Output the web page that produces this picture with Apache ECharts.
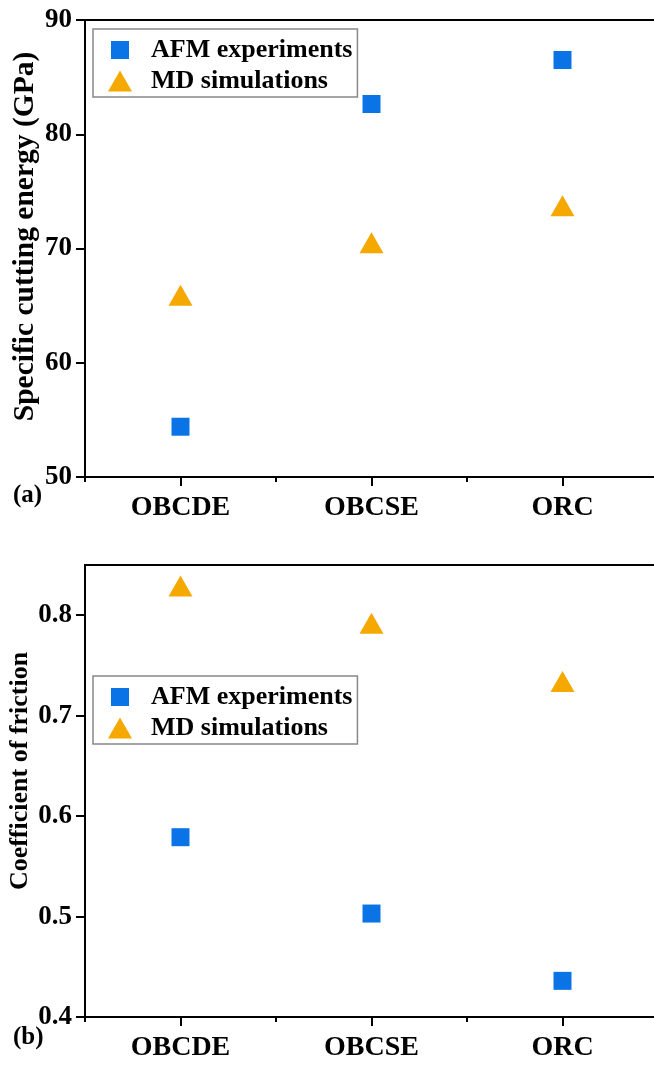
<!DOCTYPE html>
<html>
<head>
<meta charset="utf-8">
<script src="https://cdn.jsdelivr.net/npm/echarts@6/dist/echarts.min.js"></script>
<style>
html,body{margin:0;padding:0;background:#fff;}
#chart{width:654px;height:1067px;}
</style>
</head>
<body>
<div id="chart"></div>
<script>
const categories = ['OBCDE', 'OBCSE', 'ORC'];
const seriesNames = ['AFM experiments', 'MD simulations'];
const energyAFM = [54.4, 82.65, 86.5];
const energyMD = [65.9, 70.5, 73.75];
const frictionAFM = [0.579, 0.503, 0.436];
const frictionMD = [0.829, 0.792, 0.734];
const energyTicks = { min: 50, max: 90, interval: 10, minorInterval: 5 };
const frictionTicks = { min: 0.4, max: 0.85, interval: 0.1, minorInterval: 0.05 };
const panelLabels = ['(a)', '(b)'];
const yTitles = ['Specific cutting energy (GPa)', 'Coefficient of friction'];

const FONT = '"Times New Roman", "Liberation Serif", serif';
const BLUE = '#0a74e6';
const ORANGE = '#f5a800';
const squareIcon = 'path://M0,0M24,21M3,1.5h18v18h-18z';
const triIcon = 'path://M0,0M24,21M12,0L24,21L0,21z';

function xAxes(gridIndex) {
  return [
    {
      type: 'category', gridIndex, data: categories,
      axisLine: { show: true, lineStyle: { color: '#000', width: 2 } },
      axisTick: { show: true, alignWithLabel: true, inside: false, length: 9, lineStyle: { color: '#000', width: 2 } },
      axisLabel: { color: '#000', fontFamily: FONT, fontWeight: 'bold', fontSize: 28, margin: 17 },
      splitLine: { show: false }
    },
    {
      type: 'category', gridIndex, data: categories, position: 'bottom',
      axisLine: { show: false },
      axisTick: { show: true, inside: false, length: 5, lineStyle: { color: '#000', width: 2 } },
      axisLabel: { show: false },
      splitLine: { show: false }
    }
  ];
}

function isMultiple(v, step) {
  return Math.abs(v / step - Math.round(v / step)) < 1e-9;
}

function yAxes(gridIndex, t, title, gap, pad, titleSize) {
  return [
    {
      type: 'value', gridIndex, min: t.min, max: t.max, interval: t.interval,
      name: title, nameLocation: 'middle', nameGap: gap, nameMoveOverlap: false,
      nameTextStyle: { color: '#000', fontFamily: FONT, fontWeight: 'bold', fontSize: titleSize, padding: [0, 0, 0, pad] },
      axisLine: { show: true, lineStyle: { color: '#000', width: 2 } },
      axisTick: { show: true, inside: false, length: 9, lineStyle: { color: '#000', width: 2 } },
      axisLabel: { color: '#000', fontFamily: FONT, fontWeight: 'bold', fontSize: 27, margin: 13, showMaxLabel: isMultiple(t.max, t.interval) },
      splitLine: { show: false }
    },
    {
      type: 'value', gridIndex, min: t.min, max: t.max, interval: t.minorInterval,
      axisLine: { show: false },
      axisTick: { show: true, inside: false, length: 5, lineStyle: { color: '#000', width: 2 } },
      axisLabel: { show: false },
      splitLine: { show: false }
    }
  ];
}

function legend(top) {
  return {
    orient: 'vertical', left: 93, top: top,
    padding: [8, 5, 3, 15],
    itemWidth: 24, itemHeight: 21, itemGap: 5,
    symbolKeepAspect: false,
    borderColor: '#888', borderWidth: 1.5,
    textStyle: { color: '#000', fontFamily: FONT, fontWeight: 'bold', fontSize: 26, padding: [0, 0, 0, 14] },
    data: [
      { name: seriesNames[0], icon: squareIcon },
      { name: seriesNames[1], icon: triIcon }
    ]
  };
}

const option = {
  backgroundColor: '#fff',
  animation: false,
  grid: [
    { left: 85, width: 573, top: 20, height: 457, show: true, borderColor: '#000', borderWidth: 2, containLabel: false, outerBoundsMode: 'none' },
    { left: 85, width: 573, top: 565, height: 452, show: true, borderColor: '#000', borderWidth: 2, containLabel: false, outerBoundsMode: 'none' }
  ],
  legend: [legend(29), legend(676)],
  xAxis: [...xAxes(0), ...xAxes(1)],
  yAxis: [
    ...yAxes(0, energyTicks, yTitles[0], 45, 24, 29.5),
    ...yAxes(1, frictionTicks, yTitles[1], 52, 40, 26)
  ],
  graphic: [
    { type: 'text', left: 13, top: 483, style: { text: panelLabels[0], fontFamily: FONT, fontWeight: 'bold', fontSize: 25, fill: '#000' } },
    { type: 'text', left: 13, top: 1025, style: { text: panelLabels[1], fontFamily: FONT, fontWeight: 'bold', fontSize: 25, fill: '#000' } }
  ],
  series: [
    { name: seriesNames[0], type: 'scatter', xAxisIndex: 0, yAxisIndex: 0, data: energyAFM, symbol: 'rect', symbolSize: 18, itemStyle: { color: BLUE, opacity: 1 } },
    { name: seriesNames[1], type: 'scatter', xAxisIndex: 0, yAxisIndex: 0, data: energyMD, symbol: 'triangle', symbolSize: [24, 21], itemStyle: { color: ORANGE, opacity: 1 } },
    { name: seriesNames[0], type: 'scatter', xAxisIndex: 2, yAxisIndex: 2, data: frictionAFM, symbol: 'rect', symbolSize: 18, itemStyle: { color: BLUE, opacity: 1 } },
    { name: seriesNames[1], type: 'scatter', xAxisIndex: 2, yAxisIndex: 2, data: frictionMD, symbol: 'triangle', symbolSize: [24, 21], itemStyle: { color: ORANGE, opacity: 1 } }
  ]
};

const chart = echarts.init(document.getElementById('chart'), null, { renderer: 'canvas' });
chart.setOption(option);
</script>
</body>
</html>
